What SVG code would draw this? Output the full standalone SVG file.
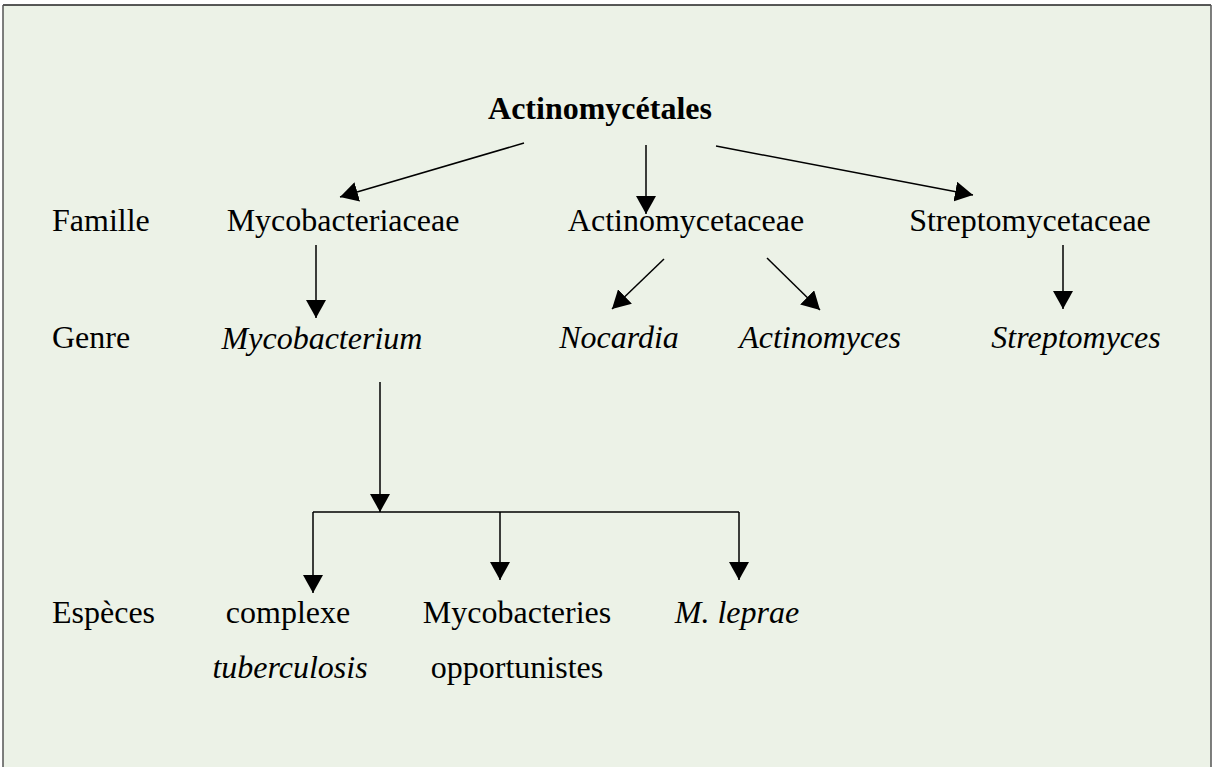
<svg xmlns="http://www.w3.org/2000/svg" width="1215" height="767" viewBox="0 0 1215 767">
<defs>
<style>
text{font-family:"Liberation Serif","Times New Roman",serif;font-size:32px;fill:#000}
.b{font-weight:bold}
.i{font-style:italic}
.m{text-anchor:middle}
.c{stroke:#000;stroke-width:1.5;fill:none}
.a{marker-end:url(#ah)}
</style>
<marker id="ah" viewBox="0 0 18 20" refX="18" refY="10" markerWidth="18" markerHeight="20" markerUnits="userSpaceOnUse" orient="auto">
<path d="M0,0 L18,10 L0,20 z" fill="#000"/>
</marker>
</defs>
<rect x="0" y="0" width="1215" height="767" fill="#ffffff"/>
<rect x="3" y="5" width="1208" height="770" fill="#ecf2e7"/>
<line x1="3" y1="5" x2="1211" y2="5" stroke="#222" stroke-width="1.5"/>
<line x1="3" y1="5" x2="3" y2="767" stroke="#555" stroke-width="1.5"/>
<line x1="1211" y1="5" x2="1211" y2="767" stroke="#555" stroke-width="1.5"/>

<g id="connectors">
<path class="c a" d="M524,143 L340,197"/>
<path class="c a" d="M646,145 L646,214"/>
<path class="c a" d="M716,146 L973,195"/>
<path class="c a" d="M316,245 L316,318"/>
<path class="c a" d="M664,259 L612,309"/>
<path class="c a" d="M767,258 L820,310"/>
<path class="c a" d="M1063,245 L1063,309"/>
<path class="c a" d="M380,382 L380,512"/>
<path class="c" d="M313,512 L739,512"/>
<path class="c a" d="M313,512 L313,593"/>
<path class="c a" d="M500,512 L500,580"/>
<path class="c a" d="M739,512 L739,580"/>
</g>

<g id="n-actinomycetales"><text class="b m" x="600" y="119">Actinomycétales</text></g>
<g id="lbl-famille"><text x="52" y="231">Famille</text></g>
<g id="lbl-genre"><text x="52" y="348">Genre</text></g>
<g id="lbl-especes"><text x="52" y="623">Espèces</text></g>
<g id="n-mycobacteriaceae"><text class="m" x="343" y="231">Mycobacteriaceae</text></g>
<g id="n-actinomycetaceae"><text class="m" x="686" y="231">Actinomycetaceae</text></g>
<g id="n-streptomycetaceae"><text class="m" x="1030" y="231">Streptomycetaceae</text></g>
<g id="n-mycobacterium"><text class="i m" x="322" y="349">Mycobacterium</text></g>
<g id="n-nocardia"><text class="i m" x="619" y="348">Nocardia</text></g>
<g id="n-actinomyces"><text class="i m" x="820" y="348">Actinomyces</text></g>
<g id="n-streptomyces"><text class="i m" x="1076" y="348">Streptomyces</text></g>
<g id="n-complexe"><text class="m" x="288" y="623">complexe</text><text class="i m" x="290" y="678">tuberculosis</text></g>
<g id="n-mycobacteries"><text class="m" x="517" y="623">Mycobacteries</text><text class="m" x="517" y="678">opportunistes</text></g>
<g id="n-mleprae"><text class="i m" x="737" y="623">M. leprae</text></g>
</svg>
